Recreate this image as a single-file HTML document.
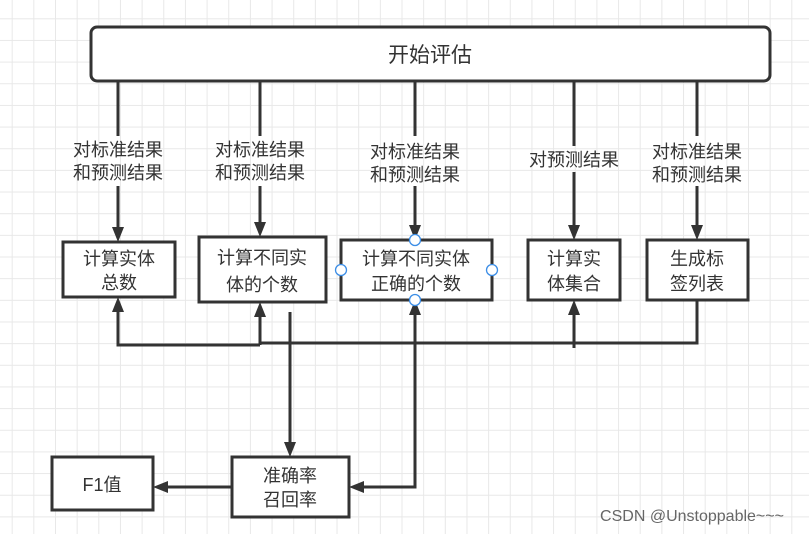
<!DOCTYPE html>
<html><head><meta charset="utf-8"><style>
html,body{margin:0;padding:0;}
body{width:809px;height:534px;overflow:hidden;background:#fff;
background-image:linear-gradient(#e8e8e8 1px,transparent 1px),linear-gradient(90deg,#e8e8e8 1px,transparent 1px);
background-size:21.67px 21.67px;background-position:11.7px 18.3px;}
svg{position:absolute;left:0;top:0;}
text{font-family:"Liberation Sans","Noto Sans CJK SC",sans-serif;fill:#333;}
</style></head><body>
<svg width="809" height="534" viewBox="0 0 809 534">
<g stroke="#333" stroke-width="3" fill="none">
<rect x="91" y="27" width="679" height="54" rx="6" fill="#fff"/>
<line x1="118" y1="81" x2="118" y2="136"/><line x1="118" y1="186" x2="118" y2="230"/>
<line x1="260" y1="81" x2="260" y2="136"/><line x1="260" y1="186" x2="260" y2="226"/>
<line x1="415" y1="81" x2="415" y2="136"/><line x1="415" y1="186" x2="415" y2="229"/>
<line x1="574" y1="81" x2="574" y2="146"/><line x1="574" y1="172" x2="574" y2="229"/>
<line x1="697" y1="81" x2="697" y2="136"/><line x1="697" y1="186" x2="697" y2="229"/>
<rect x="63" y="242" width="112" height="55" fill="#fff"/>
<rect x="199" y="237" width="127" height="65" fill="#fff"/>
<rect x="341" y="240" width="151" height="60" fill="#fff"/>
<rect x="528" y="240" width="92" height="60" fill="#fff"/>
<rect x="647" y="240" width="101" height="60" fill="#fff"/>
<rect x="232" y="457" width="117" height="60" fill="#fff"/>
<rect x="52" y="457" width="101" height="53" fill="#fff"/>
<polyline points="260,345 118,345 118,310"/>
<line x1="260" y1="345" x2="260" y2="314"/>
<polyline points="260,343 697,343 697,300"/>
<line x1="415" y1="343" x2="415" y2="312"/>
<line x1="574" y1="348" x2="574" y2="312"/>
<line x1="290" y1="312" x2="290" y2="445"/>
<polyline points="415,343 415,487 361,487"/>
<line x1="232" y1="487" x2="165" y2="487"/>
</g>
<g fill="#333">
<path d="M112,227h12l-6,15z"/><path d="M254,222h12l-6,15z"/><path d="M409,225h12l-6,15z"/>
<path d="M568,225h12l-6,15z"/><path d="M691,225h12l-6,15z"/>
<path d="M112,312h12l-6,-15z"/><path d="M254,317h12l-6,-15z"/><path d="M409,315h12l-6,-15z"/><path d="M568,315h12l-6,-15z"/>
<path d="M284,442h12l-6,15z"/>
<path d="M364,481v12l-15,-6z"/><path d="M168,481v12l-15,-6z"/>
</g>
<g fill="#fff" stroke="#3b8de6" stroke-width="1.3">
<circle cx="415" cy="240" r="5.5"/><circle cx="415" cy="300" r="5.5"/><circle cx="341" cy="270" r="5.5"/><circle cx="492" cy="270" r="5.5"/>
</g>
<g font-size="18" text-anchor="middle">
<text x="430" y="62" font-size="21">开始评估</text>
<text x="118" y="156">对标准结果</text><text x="118" y="179">和预测结果</text>
<text x="260" y="156">对标准结果</text><text x="260" y="179">和预测结果</text>
<text x="415" y="158">对标准结果</text><text x="415" y="181">和预测结果</text>
<text x="574" y="166">对预测结果</text>
<text x="697" y="158">对标准结果</text><text x="697" y="181">和预测结果</text>
<text x="119" y="265">计算实体</text><text x="119" y="289">总数</text>
<text x="262" y="264">计算不同实</text><text x="262" y="291">体的个数</text>
<text x="416" y="265">计算不同实体</text><text x="416" y="290">正确的个数</text>
<text x="574" y="265">计算实</text><text x="574" y="290">体集合</text>
<text x="697" y="265">生成标</text><text x="697" y="290">签列表</text>
<text x="290" y="482">准确率</text><text x="290" y="506">召回率</text>
<text x="102" y="491">F1值</text>
</g>
<text x="692" y="521" font-size="16" text-anchor="middle" style="fill:#666">CSDN @Unstoppable~~~</text>
</svg>
</body></html>
